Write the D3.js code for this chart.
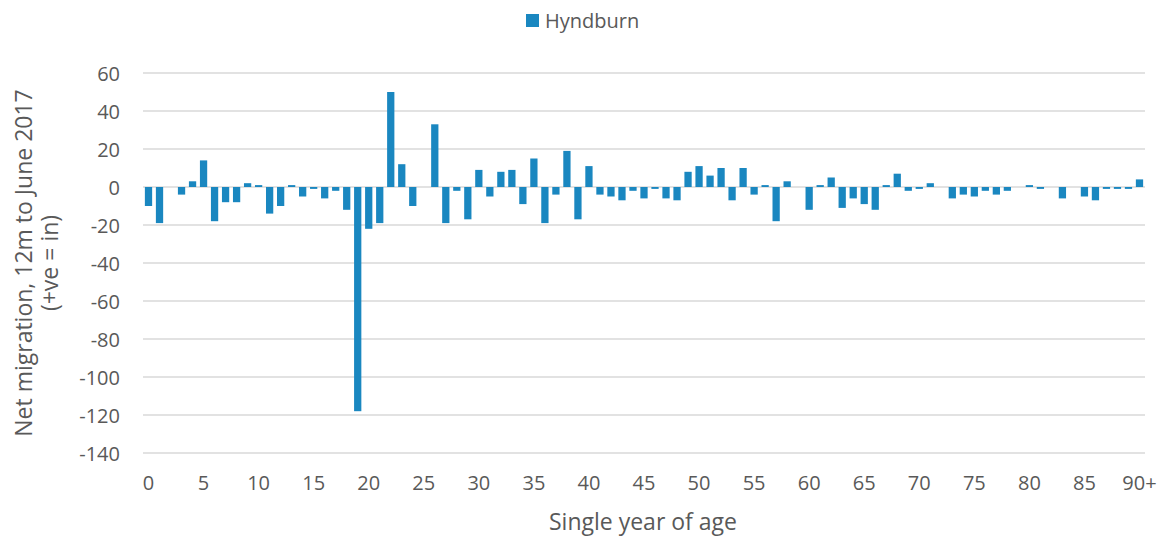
<!DOCTYPE html>
<html>
<head>
<meta charset="utf-8">
<script src="https://cdn.jsdelivr.net/npm/d3@7"></script>
<style>
  html, body { margin: 0; padding: 0; background: #fff; }
  svg { display: block; font-family: "Open Sans", sans-serif; }
</style>
</head>
<body>
<svg id="chart" width="1162" height="536"></svg>
<script>
const ages = d3.range(0, 91).map(i => i === 90 ? "90+" : String(i));
const seriesName = "Hyndburn";
const values = [
  -10, -19, 0, -4, 3, 14, -18, -8, -8, 2,
  1, -14, -10, 1, -5, -1, -6, -2, -12, -118,
  -22, -19, 50, 12, -10, 0, 33, -19, -2, -17,
  9, -5, 8, 9, -9, 15, -19, -4, 19, -17,
  11, -4, -5, -7, -2, -6, -1, -6, -7, 8,
  11, 6, 10, -7, 10, -4, 1, -18, 3, 0,
  -12, 1, 5, -11, -6, -9, -12, 1, 7, -2,
  -1, 2, 0, -6, -4, -5, -2, -4, -2, 0,
  1, -1, 0, -6, 0, -5, -7, -1, -1, -1,
  4
];
const yTicks = [60, 40, 20, 0, -20, -40, -60, -80, -100, -120, -140];
const xTickLabels = ["0","5","10","15","20","25","30","35","40","45","50","55","60","65","70","75","80","85","90+"];
const xTitle = "Single year of age";
const yTitleLines = ["Net migration, 12m to June 2017", "(+ve = in)"];

const svg = d3.select("#chart");
const mLeft = 143, mRight = 1145, mTop = 73, mBottom = 453;
const color = "#1a87c0";
const textColor = "#595959";

const x = d3.scaleBand().domain(ages).range([mLeft, mRight]).paddingInner(0.34).paddingOuter(0.17);
const y = d3.scaleLinear().domain([-140, 60]).range([mBottom, mTop]);

// gridlines
svg.append("g").selectAll("line").data(yTicks).join("line")
  .attr("x1", mLeft).attr("x2", mRight)
  .attr("y1", d => y(d)).attr("y2", d => y(d))
  .attr("stroke", "#d9d9d9").attr("stroke-width", 1.3);

// y axis labels
const yAxis = d3.axisLeft(y).tickValues(yTicks).tickFormat(d => String(d)).tickSize(0).tickPadding(0);
const gy = svg.append("g").attr("transform", `translate(120,0)`).call(yAxis);
gy.select(".domain").remove();
gy.selectAll("text").attr("fill", textColor).style("font-size", "20px")
  .style("font-family", "'Open Sans', sans-serif").attr("dy", "0.35em");

// bars
svg.append("g").selectAll("rect").data(values).join("rect")
  .attr("x", (d, i) => x(ages[i]))
  .attr("width", x.bandwidth())
  .attr("y", d => y(Math.max(0, d)))
  .attr("height", d => Math.abs(y(d) - y(0)))
  .attr("fill", color);

// x axis labels
const xAxis = d3.axisBottom(x).tickValues(xTickLabels).tickSize(0).tickPadding(0);
const gx = svg.append("g").attr("transform", `translate(0,${mBottom + 23})`).call(xAxis);
gx.select(".domain").remove();
gx.selectAll("text").attr("fill", textColor).style("font-size", "20px")
  .style("font-family", "'Open Sans', sans-serif").attr("dy", "0.71em");

// x title
svg.append("text").attr("x", (mLeft + mRight) / 2 - 1).attr("y", 530)
  .attr("text-anchor", "middle").attr("fill", textColor).style("font-size", "23px")
  .text(xTitle);

// y title
const yt = svg.append("text").attr("transform", "translate(0,263) rotate(-90)")
  .attr("text-anchor", "middle").attr("fill", textColor).style("font-size", "23px");
yt.selectAll("tspan").data(yTitleLines).join("tspan")
  .attr("x", 0).attr("y", (d, i) => 32 + i * 26).text(d => d);

// legend
const lg = svg.append("g");
lg.append("rect").attr("x", 526).attr("y", 14).attr("width", 13).attr("height", 13).attr("fill", color);
lg.append("text").attr("x", 545).attr("y", 28).attr("fill", textColor).style("font-size", "20px").text(seriesName);
</script>
</body>
</html>
